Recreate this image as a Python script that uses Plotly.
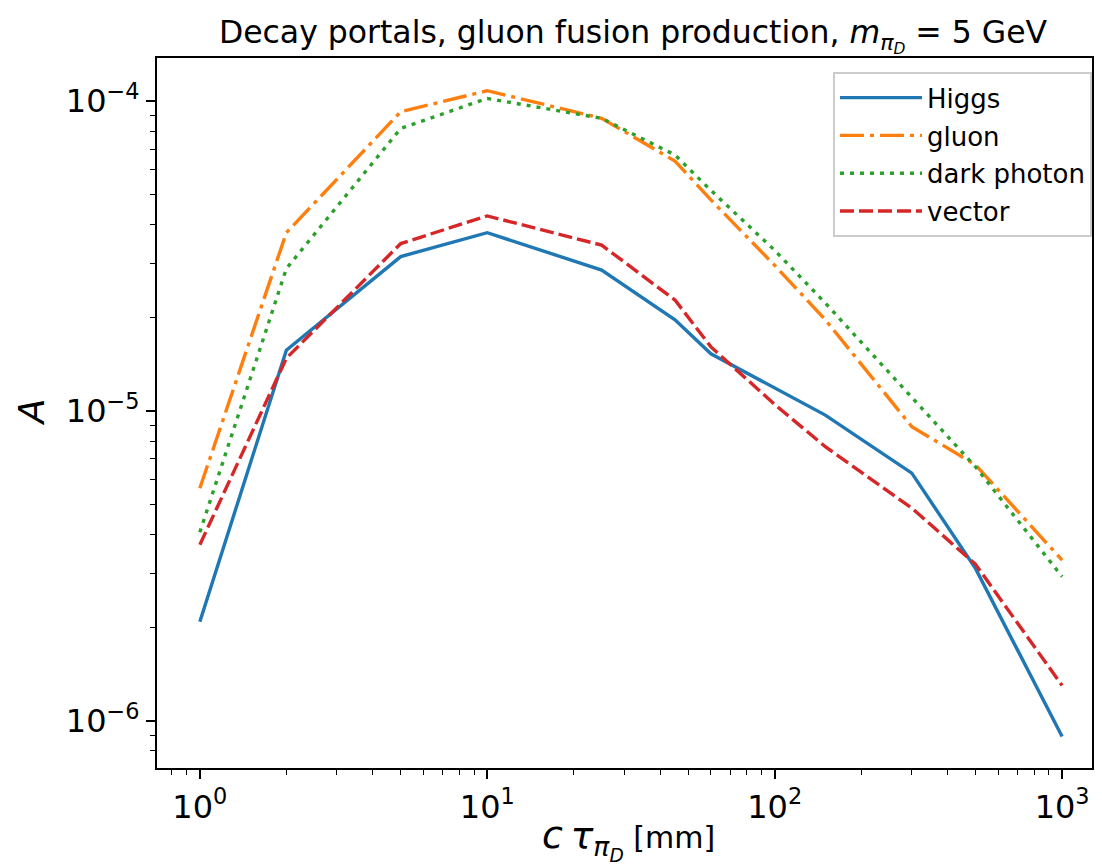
import plotly.graph_objects as go

# lifetimes [mm] and acceptances
ctau = [1, 2, 5, 10, 25, 45, 60, 100, 150, 300, 500, 1000]
higgs = [2.09e-6, 1.57e-5, 3.15e-5, 3.76e-5, 2.85e-5, 1.97e-5, 1.53e-5, 1.19e-5, 9.7e-6, 6.3e-6, 3.1e-6, 8.9e-7]
gluon = [5.63e-6, 3.76e-5, 9.24e-5, 1.08e-4, 8.8e-5, 6.4e-5, 4.8e-5, 2.95e-5, 1.97e-5, 8.9e-6, 6.7e-6, 3.3e-6]
dark_photon = [4.06e-6, 2.88e-5, 8.16e-5, 1.02e-4, 8.8e-5, 6.7e-5, 5.15e-5, 3.3e-5, 2.23e-5, 1.11e-5, 6.6e-6, 2.92e-6]
vector = [3.7e-6, 1.48e-5, 3.47e-5, 4.26e-5, 3.43e-5, 2.28e-5, 1.61e-5, 1.05e-5, 7.67e-6, 4.86e-6, 3.2e-6, 1.3e-6]

series = [
    ("Higgs", higgs, "#1f77b4", "solid"),
    ("gluon", gluon, "#ff7f0e", "24px,6px,4px,6px"),
    ("dark photon", dark_photon, "#2ca02c", "4px,6px"),
    ("vector", vector, "#d62728", "14px,5px"),
]

fig = go.Figure()
for name, vals, col, dash in series:
    fig.add_trace(go.Scatter(x=ctau, y=vals, name=name, mode="lines", legendgroup=name,
                             line=dict(color=col, width=3.4, dash=dash)))

font = "DejaVu Sans"
x_minor = [m * 10 ** e for e in range(-1, 4) for m in range(2, 10)]
y_minor = [m * 10 ** e for e in range(-7, -3) for m in range(2, 10)]

# page has an 8px body margin, figure placed at (8, 8)
W, H = 1086, 859
L, B, T = 149, 99, 50
pw, ph = W - L, H - T - B

fig.update_layout(
    width=W, height=H,
    margin=dict(l=L, r=0, t=T, b=B),
    plot_bgcolor="white", paper_bgcolor="white",
    font=dict(family=font, size=26, color="black"),
    title=dict(text="Decay portals, gluon fusion production, <i>m</i><sub><i>π<sub>D</sub></i></sub> = 5 GeV",
               x=625 / W, xanchor="center", y=1 - 24 / H, yanchor="middle",
               font=dict(size=31.5)),
    showlegend=True,
    legend=dict(x=1.0, y=0.98, xanchor="right", yanchor="top",
                bgcolor="white", bordercolor="#cccccc", borderwidth=2,
                font=dict(size=26), traceorder="grouped", tracegroupgap=1,
                itemwidth=82),
)

# axis titles as annotations so they sit where the reference has them
fig.add_annotation(text='<span style="font-size:38px"><i>c\u2009τ</i><sub><i>π<sub>D</sub></i></sub></span> [mm]',
                   xref="paper", yref="paper", x=(622 - L) / pw, y=-(831 - (H - B)) / ph,
                   xanchor="center", yanchor="middle", showarrow=False, font=dict(size=30))
fig.add_annotation(text="<i>A</i>", xref="paper", yref="paper",
                   x=(23 - L) / pw, y=((H - B) - 404) / ph, textangle=-90,
                   xanchor="center", yanchor="middle", showarrow=False, font=dict(size=36))

fig.update_xaxes(
    type="log", range=[-0.149, 3.104],
    showgrid=False, zeroline=False,
    showline=True, linecolor="black", linewidth=2.2, mirror=True,
    ticks="outside", ticklen=9, tickwidth=1.8, tickcolor="black",
    tickvals=[1, 10, 100, 1000],
    ticktext=["10<sup>0</sup>", "10<sup>1</sup>", "10<sup>2</sup>", "10<sup>3</sup>"],
    tickfont=dict(size=32),
    minor=dict(tickvals=x_minor, ticks="outside", ticklen=5, tickwidth=1.3, tickcolor="black"),
)
fig.update_yaxes(
    type="log", range=[-6.152, -3.861],
    showgrid=False, zeroline=False,
    showline=True, linecolor="black", linewidth=2.2, mirror=True,
    ticks="outside", ticklen=9, tickwidth=1.8, tickcolor="black",
    tickvals=[1e-6, 1e-5, 1e-4],
    ticktext=["10<sup>−6</sup>", "10<sup>−5</sup>", "10<sup>−4</sup>"],
    tickfont=dict(size=32),
    minor=dict(tickvals=y_minor, ticks="outside", ticklen=5, tickwidth=1.3, tickcolor="black"),
)

fig.write_html("out.html")
